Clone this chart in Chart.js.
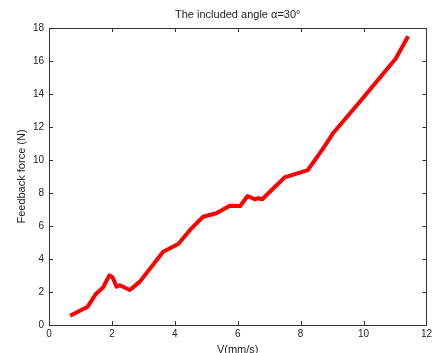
<!DOCTYPE html>
<html>
<head>
<meta charset="utf-8">
<script src="https://cdn.jsdelivr.net/npm/chart.js@4/dist/chart.umd.min.js"></script>
<style>
html,body{margin:0;padding:0;background:#fff;}
#wrap{width:435px;height:353px;position:relative;}
</style>
</head>
<body>
<div id="wrap"><canvas id="c" width="435" height="353"></canvas></div>
<script>
const velocity = [0.67, 1.23, 1.49, 1.72, 1.92, 2.02, 2.15, 2.25, 2.57, 2.89, 3.63, 4.11, 4.53, 4.90, 5.32, 5.75, 6.08, 6.31, 6.54, 6.65, 6.78, 7.49, 8.23, 8.76, 9.03, 9.93, 11.02, 11.42];
const force    = [0.56, 1.11, 1.88, 2.28, 3.01, 2.89, 2.32, 2.41, 2.12, 2.63, 4.44, 4.91, 5.86, 6.56, 6.77, 7.23, 7.21, 7.82, 7.62, 7.68, 7.62, 8.95, 9.39, 10.83, 11.62, 13.64, 16.14, 17.50];
const xTicks = [0, 2, 4, 6, 8, 10, 12];
const yTicks = [0, 2, 4, 6, 8, 10, 12, 14, 16, 18];

const points = velocity.map((v, i) => ({x: v, y: force[i]}));

const boxPlugin = {
  id: 'box',
  afterDraw(chart) {
    const ctx = chart.ctx, a = chart.chartArea;
    const xs = chart.scales.x, ys = chart.scales.y;
    ctx.save();
    ctx.strokeStyle = '#333';
    ctx.lineWidth = 1;
    ctx.beginPath();
    ctx.rect(Math.round(a.left) + 0.5, Math.round(a.top) + 0.5, Math.round(a.right - a.left), Math.round(a.bottom - a.top));
    ctx.stroke();
    const L = 4;
    ctx.beginPath();
    xTicks.forEach(t => {
      const px = Math.round(xs.getPixelForValue(t)) + 0.5;
      ctx.moveTo(px, a.bottom); ctx.lineTo(px, a.bottom - L);
      ctx.moveTo(px, a.top); ctx.lineTo(px, a.top + L);
    });
    yTicks.forEach(t => {
      const py = Math.round(ys.getPixelForValue(t)) + 0.5;
      ctx.moveTo(a.left, py); ctx.lineTo(a.left + L, py);
      ctx.moveTo(a.right, py); ctx.lineTo(a.right - L, py);
    });
    ctx.stroke();
    ctx.restore();
  }
};

new Chart(document.getElementById('c'), {
  type: 'scatter',
  data: {
    datasets: [{
      data: points,
      showLine: true,
      borderColor: '#ff0000',
      backgroundColor: '#ff0000',
      borderWidth: 4,
      pointRadius: 0,
      tension: 0,
      borderJoinStyle: 'round',
      borderCapStyle: 'butt'
    }]
  },
  options: {
    responsive: false,
    animation: false,
    devicePixelRatio: 1,
    layout: {padding: {left: 0, right: 8, top: 0, bottom: 0}},
    plugins: {
      legend: {display: false},
      tooltip: {enabled: false},
      title: {
        display: true,
        text: 'The included angle \u03b1=30\u00b0',
        fullSize: false,
        color: '#222',
        font: {family: 'Liberation Sans, Arial, sans-serif', size: 11, weight: 'normal', lineHeight: 1.2},
        padding: {top: 8, bottom: 6.8}
      }
    },
    scales: {
      x: {
        type: 'linear',
        min: 0, max: 12,
        afterBuildTicks: s => { s.ticks = xTicks.map(v => ({value: v})); },
        afterFit: s => { s.height = 28; },
        grid: {display: false, drawTicks: false},
        border: {display: false},
        ticks: {
          color: '#222',
          padding: 3,
          maxRotation: 0,
          autoSkip: false,
          font: {family: 'Liberation Sans, Arial, sans-serif', size: 10}
        },
        title: {
          display: true,
          text: 'V(mm/s)',
          color: '#222',
          font: {family: 'Liberation Sans, Arial, sans-serif', size: 11},
          padding: {top: 0, bottom: -4}
        }
      },
      y: {
        type: 'linear',
        min: 0, max: 18,
        afterBuildTicks: s => { s.ticks = yTicks.map(v => ({value: v})); },
        afterFit: s => { s.width = 49; },
        grid: {display: false, drawTicks: false},
        border: {display: false},
        ticks: {
          color: '#222',
          padding: 5,
          autoSkip: false,
          font: {family: 'Liberation Sans, Arial, sans-serif', size: 10}
        },
        title: {
          display: true,
          text: 'Feedback force (N)',
          color: '#222',
          font: {family: 'Liberation Sans, Arial, sans-serif', size: 11},
          padding: {top: 15, bottom: 0}
        }
      }
    }
  },
  plugins: [boxPlugin]
});
</script>
</body>
</html>
